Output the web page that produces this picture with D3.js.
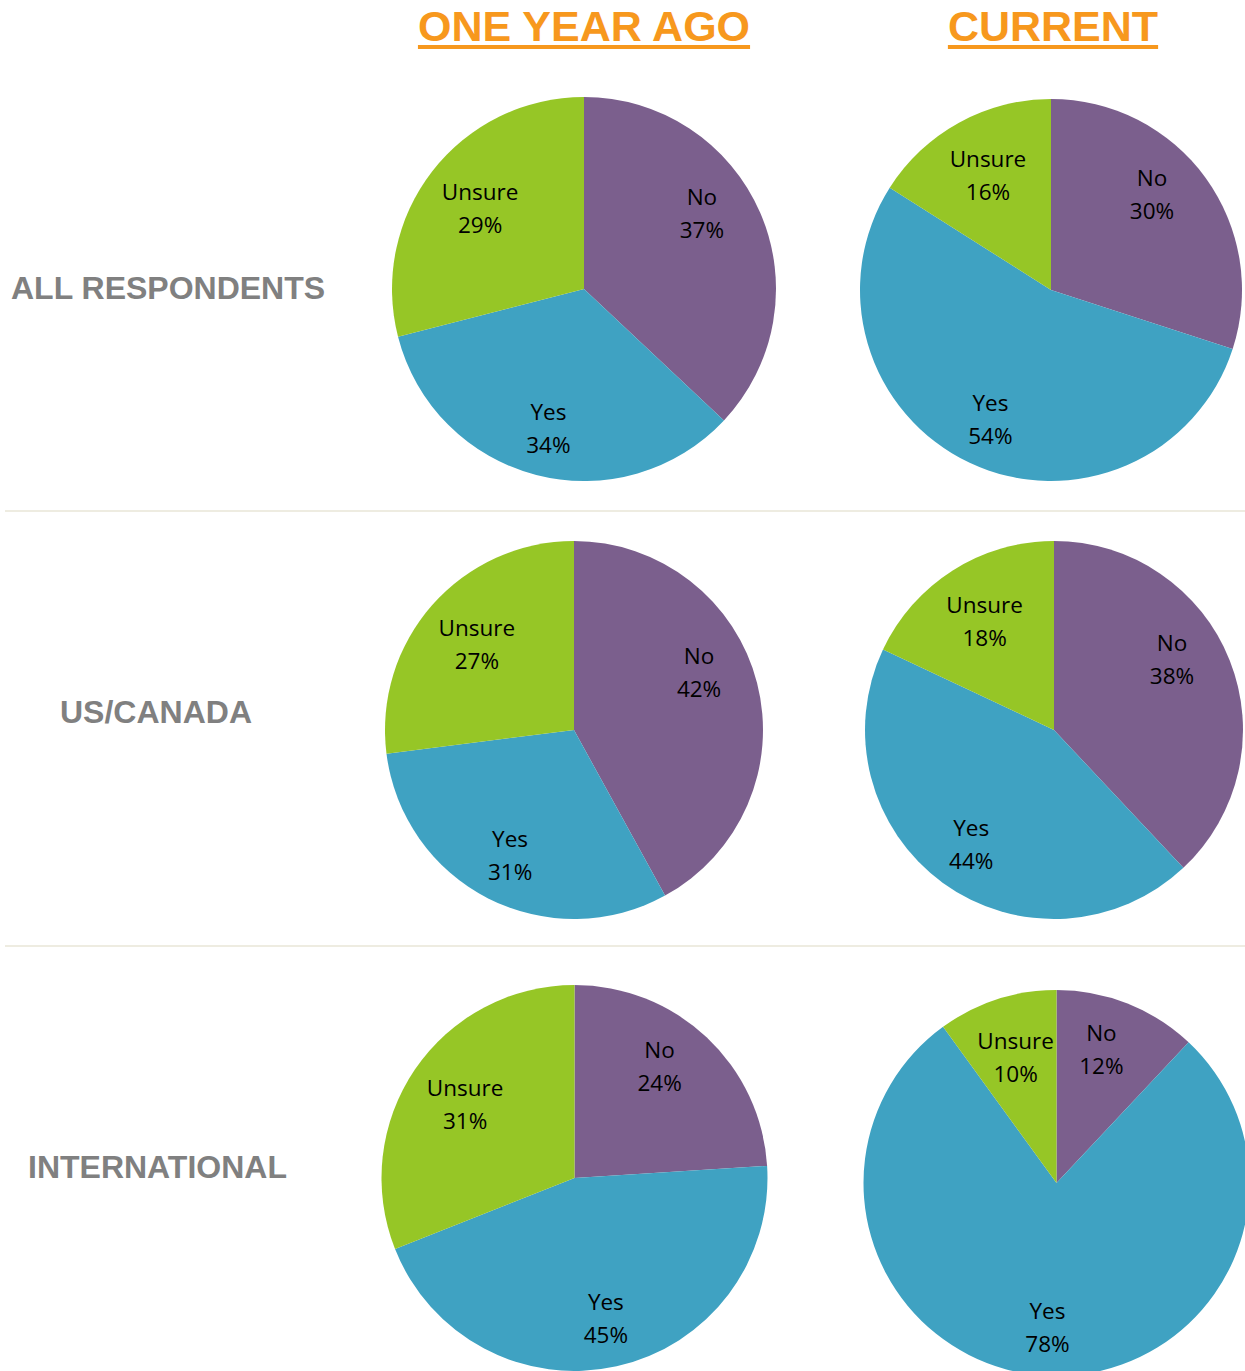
<!DOCTYPE html>
<html>
<head>
<meta charset="utf-8">
<script src="https://cdn.jsdelivr.net/npm/d3@7"></script>
<style>
  body { margin: 0; background: #fff; }
  svg { display: block; }
</style>
</head>
<body>
<svg id="chart" width="1245" height="1371"></svg>
<script>
// data
var columns = ["ONE YEAR AGO", "CURRENT"];
var groups = ["ALL RESPONDENTS", "US/CANADA", "INTERNATIONAL"];
var answers = ["No", "Yes", "Unsure"];
var allAgo = [37, 34, 29];
var allNow = [30, 54, 16];
var usAgo = [42, 31, 27];
var usNow = [38, 44, 18];
var intlAgo = [24, 45, 31];
var intlNow = [12, 78, 10];
var values = [[allAgo, allNow], [usAgo, usNow], [intlAgo, intlNow]];

// layout
var headerX = [584, 1053];
var rowLabelX = [11, 60, 28];
var rowLabelY = [299, 723, 1178];
var separatorY = [511, 946];
var centers = [
  [[584, 289, 192], [1051, 290, 191]],
  [[574, 730, 189], [1054, 730, 189]],
  [[574.5, 1178, 193], [1056.5, 1183, 193]]
];
// where the label sits along each slice (fraction of the slice) and how far out
var labelFrac = {No: 0.43, Yes: 0.5, Unsure: 0.5};
var labelDist = {No: 0.73, Yes: 0.745, Unsure: 0.685};

var colors = d3.scaleOrdinal().domain(answers).range(["#7B5F8D", "#3FA2C2", "#96C626"]);

var svg = d3.select("#chart");

// column headers
var heads = svg.selectAll("g.head").data(columns).enter().append("g")
    .attr("class", "head");
heads.append("text")
    .attr("x", function(d, i){ return headerX[i]; })
    .attr("y", 41)
    .attr("text-anchor", "middle")
    .attr("font-family", "Liberation Sans, Arial, sans-serif")
    .attr("font-weight", "bold")
    .attr("font-size", 43)
    .attr("fill", "#F7981D")
    .text(function(d){ return d; })
    .each(function(){
        var b = this.getBBox();
        d3.select(this.parentNode).append("rect")
            .attr("x", b.x).attr("y", 45)
            .attr("width", b.width).attr("height", 4)
            .attr("fill", "#F7981D");
    });

// separators
svg.selectAll("line.sep").data(separatorY).enter().append("line")
    .attr("class", "sep")
    .attr("x1", 5).attr("x2", 1245)
    .attr("y1", function(d){ return d; })
    .attr("y2", function(d){ return d; })
    .attr("stroke", "#EEECE1")
    .attr("stroke-width", 2);

// row labels
svg.selectAll("text.row").data(groups).enter().append("text")
    .attr("class", "row")
    .attr("x", function(d, i){ return rowLabelX[i]; })
    .attr("y", function(d, i){ return rowLabelY[i]; })
    .attr("font-family", "Liberation Sans, Arial, sans-serif")
    .attr("font-weight", "bold")
    .attr("font-size", 32)
    .attr("fill", "#808080")
    .text(function(d){ return d; });

var pie = d3.pie().sort(null).value(function(d){ return d.v; });

values.forEach(function(row, r){
    row.forEach(function(vals, c){
        var cx = centers[r][c][0], cy = centers[r][c][1], rad = centers[r][c][2];
        var data = vals.map(function(v, i){ return {name: answers[i], v: v}; });
        var arc = d3.arc().innerRadius(0).outerRadius(rad);

        var g = svg.append("g").attr("transform", "translate(" + cx + "," + cy + ")");
        g.selectAll("path").data(pie(data)).enter().append("path")
            .attr("d", arc)
            .attr("fill", function(d){ return colors(d.data.name); });

        var lbl = g.selectAll("text").data(pie(data)).enter().append("text")
            .attr("transform", function(d){
                var k = labelDist[d.data.name] * rad;
                var a = d.startAngle + labelFrac[d.data.name] * (d.endAngle - d.startAngle);
                var p = d3.arc().innerRadius(k).outerRadius(k).centroid({startAngle: a, endAngle: a});
                return "translate(" + p + ")";
            })
            .attr("text-anchor", "middle")
            .attr("font-family", "Open Sans, sans-serif")
            .attr("font-size", 22.5)
            .attr("fill", "#000");
        lbl.append("tspan").attr("x", 0).attr("y", -8)
            .text(function(d){ return d.data.name; });
        lbl.append("tspan").attr("x", 0).attr("y", 25)
            .text(function(d){ return d.data.v + "%"; });
    });
});
</script>
</body>
</html>
